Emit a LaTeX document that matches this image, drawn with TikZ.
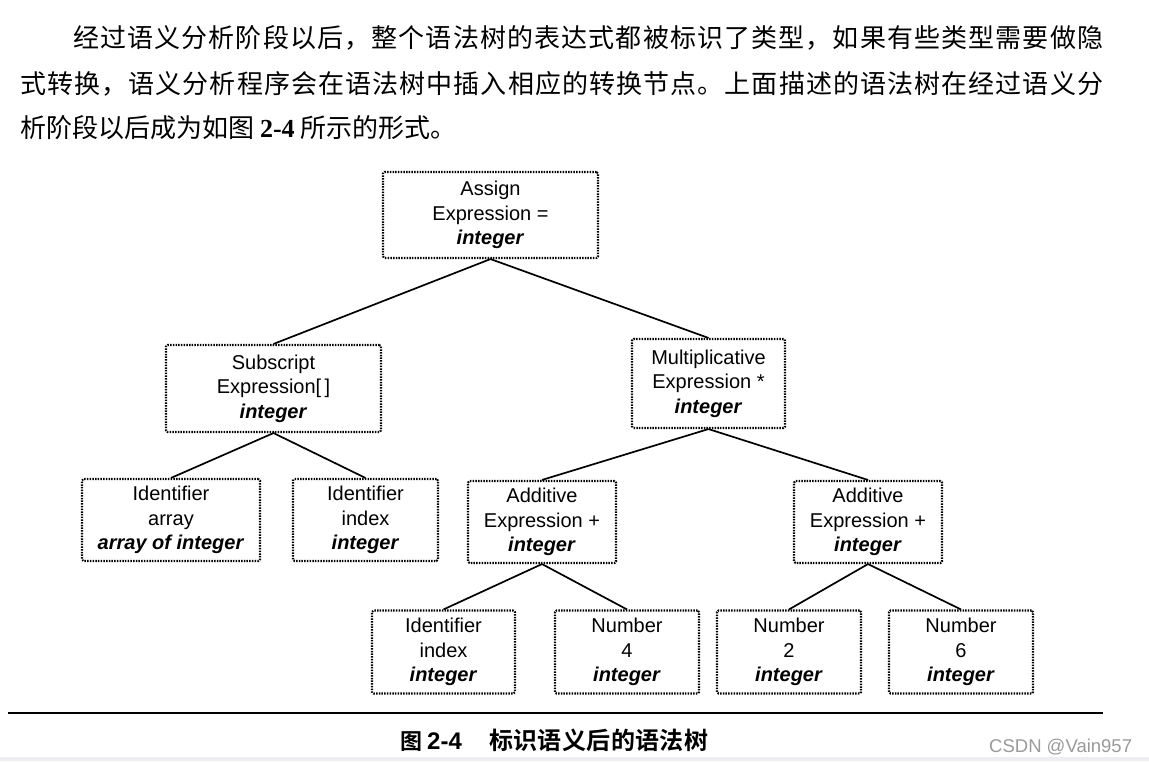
\documentclass[tikz,border=0pt]{standalone}
\usepackage{fontspec}
\setmainfont{Liberation Sans}
\newfontfamily\cjk{Noto Sans CJK SC}
\newfontfamily\cjkb{Noto Sans CJK SC Bold}
\newfontfamily\tms{Liberation Serif}
\makeatletter
\def\spreadline#1#2{\hbox to #1{\spread@a#2\relax}}
\def\spread@a#1{#1\spread@b}
\def\spread@b#1{\ifx#1\relax\else\hfil#1\expandafter\spread@b\fi}
\makeatother
\definecolor{wm}{HTML}{9A9A9A}
\definecolor{band}{HTML}{EEEEF2}
\begin{document}
\begin{tikzpicture}[x=1pt,y=-1pt,
  treebox/.style={draw=black, line width=2.1pt, dash pattern=on 1.5pt off 1.2pt,
    rounded corners=1.5pt, align=center, inner sep=0pt,
    font=\fontsize{20}{24.5}\selectfont},
  edge/.style={draw=black, line width=1.7pt},
  para/.style={anchor=base west, inner sep=0pt, font=\cjk\fontsize{26}{30}\selectfont},
  captext/.style={anchor=base west, inner sep=0pt}]
\useasboundingbox (0,0) rectangle (1149,761);
\fill[white] (0,0) rectangle (1149,761);
\fill[band] (0,757) rectangle (1149,761);

% paragraph
\node[para] (p1) at (73,47) {\spreadline{1030pt}{经过语义分析阶段以后，整个语法树的表达式都被标识了类型，如果有些类型需要做隐}};
\node[para] (p2) at (20,93) {\spreadline{1083pt}{式转换，语义分析程序会在语法树中插入相应的转换节点。上面描述的语法树在经过语义分}};
\node[para] (p3) at (20,137) {析阶段以后成为如图 {\tms\bfseries 2-4} 所示的形式。};

% tree nodes
\node[treebox, minimum width=215pt, minimum height=86pt] (assign) at (490.5,215) {Assign\\Expression =\\\textbf{\textit{integer}}};
\node[treebox, minimum width=215pt, minimum height=87pt] (sub) at (273.5,388.5) {Subscript\\Expression[\,]\\\textbf{\textit{integer}}};
\node[treebox, minimum width=153pt, minimum height=89pt] (mul) at (708.5,383.5) {Multiplicative\\Expression *\\\textbf{\textit{integer}}};
\node[treebox, minimum width=178pt, minimum height=82pt] (arr) at (171,520) {Identifier\\array\\\textbf{\textit{array of integer}}};
\node[treebox, minimum width=145pt, minimum height=82pt] (idx) at (365.5,520) {Identifier\\index\\\textbf{\textit{integer}}};
\node[treebox, minimum width=148pt, minimum height=82pt] (add1) at (542,522) {Additive\\Expression +\\\textbf{\textit{integer}}};
\node[treebox, minimum width=148pt, minimum height=82pt] (add2) at (868,522) {Additive\\Expression +\\\textbf{\textit{integer}}};
\node[treebox, minimum width=143pt, minimum height=83pt] (idx2) at (443.5,652) {Identifier\\index\\\textbf{\textit{integer}}};
\node[treebox, minimum width=144pt, minimum height=83pt] (n4) at (627,652) {Number\\4\\\textbf{\textit{integer}}};
\node[treebox, minimum width=144pt, minimum height=83pt] (n2) at (789,652) {Number\\2\\\textbf{\textit{integer}}};
\node[treebox, minimum width=144pt, minimum height=83pt] (n6) at (961,652) {Number\\6\\\textbf{\textit{integer}}};

% edges
\draw[edge] (assign.south) -- (sub.north);
\draw[edge] (assign.south) -- (mul.north);
\draw[edge] (sub.south) -- (arr.north);
\draw[edge] (sub.south) -- (idx.north);
\draw[edge] (mul.south) -- (add1.north);
\draw[edge] (mul.south) -- (add2.north);
\draw[edge] (add1.south) -- (idx2.north);
\draw[edge] (add1.south) -- (n4.north);
\draw[edge] (add2.south) -- (n2.north);
\draw[edge] (add2.south) -- (n6.north);

% rule and caption
\coordinate (rl) at (8,713);
\coordinate (rr) at (1103,713);
\draw[line width=1.7pt] (rl) -- (rr);
\node[captext, font=\cjkb\fontsize{22}{26}\selectfont] (c1) at (400,749) {图};
\node[captext, font=\bfseries\fontsize{24}{28}\selectfont] (c2) at (427,749) {2-4};
\node[captext, font=\cjkb\fontsize{24}{28}\selectfont] (c3) at (489,749) {\spreadline{219pt}{标识语义后的语法树}};
\node[captext, font=\fontsize{18.5}{22}\selectfont, text=wm] (wmk) at (989,752) {CSDN @Vain957};
\end{tikzpicture}
\end{document}
